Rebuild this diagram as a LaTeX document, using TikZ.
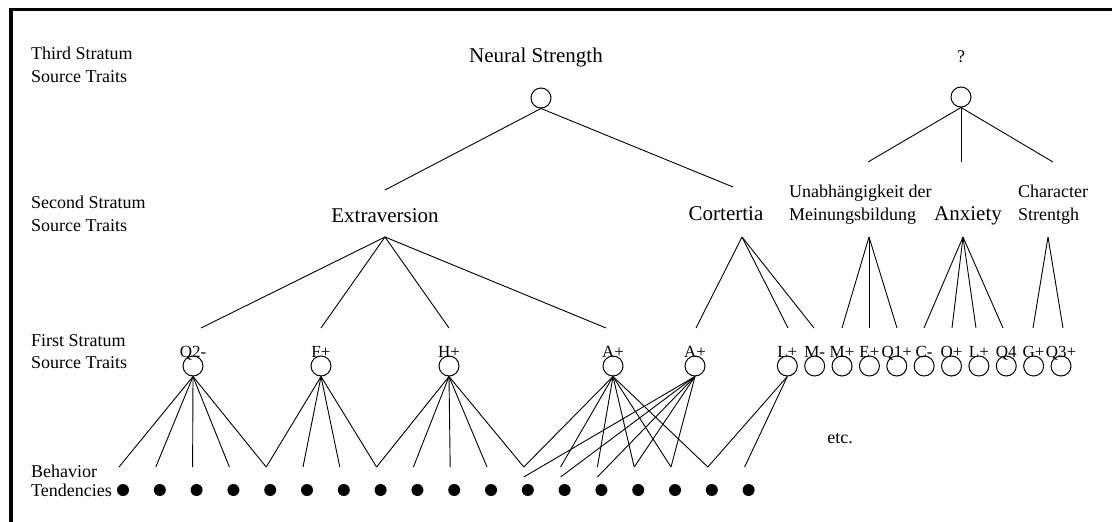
\documentclass[tikz,border=0pt]{standalone}
\usepackage{fontspec}
\setmainfont{Liberation Serif}
\begin{document}
\begin{tikzpicture}[x=1pt,y=-1pt,
  trait/.style={draw, circle, minimum size=20pt, inner sep=0pt, line width=1pt},
  beh/.style={fill, circle, minimum size=12pt, inner sep=0pt},
  link/.style={line width=0.9pt},
  sidelab/.style={anchor=base west, inner sep=0pt, font=\fontsize{18}{22}\selectfont},
  biglab/.style={anchor=base, inner sep=0pt, font=\fontsize{21}{25}\selectfont},
  midlab/.style={anchor=base west, inner sep=0pt, font=\fontsize{18}{22}\selectfont},
  traitlab/.style={anchor=base, inner sep=0pt, font=\fontsize{17}{20}\selectfont},
]
\useasboundingbox (0,0) rectangle (1112,522);

% frame on the left and top
\draw[line width=3.4pt] (10.8,522) -- (10.8,9.7) -- (1112,9.7);

% stratum captions
\node[sidelab] (t3a) at (31,59) {Third Stratum};
\node[sidelab] (t3b) at (31,82) {Source Traits};
\node[sidelab] (t2a) at (31,208) {Second Stratum};
\node[sidelab] (t2b) at (31,231) {Source Traits};
\node[sidelab] (t1a) at (31,346) {First Stratum};
\node[sidelab] (t1b) at (31,368) {Source Traits};
\node[sidelab] (tba) at (31,477) {Behavior};
\node[sidelab] (tbb) at (31,496) {Tendencies};

% third stratum
\node[biglab] (nslab) at (536,62) {Neural Strength};
\node[trait] (ns) at (541,98) {};
\node[anchor=base, inner sep=0pt, font=\fontsize{18}{22}\selectfont] (qlab) at (961,62) {?};
\node[trait] (qm) at (961,97) {};

\coordinate (nsL) at (385,190);
\coordinate (nsR) at (733,187);
\draw[link] (ns.south) -- (nsL);
\draw[link] (ns.south) -- (nsR);
\coordinate (qL) at (868,162);
\coordinate (qC) at (961,162);
\coordinate (qR) at (1053,162);
\draw[link] (qm.south) -- (qL);
\draw[link] (qm.south) -- (qC);
\draw[link] (qm.south) -- (qR);

% second stratum
\node[biglab] (ext) at (385,222) {Extraversion};
\node[biglab] (cort) at (726,220) {Cortertia};
\node[midlab] (una) at (789,197) {Unabhängigkeit der};
\node[midlab] (unb) at (789,220) {Meinungsbildung};
\node[biglab] (anx) at (968,220) {Anxiety};
\node[midlab] (cha) at (1018,197) {Character};
\node[midlab] (chb) at (1018,220) {Strentgh};

\coordinate (extA) at (385,237);
\coordinate (cortA) at (742,237);
\coordinate (unaA) at (869,237);
\coordinate (anxA) at (963,237);
\coordinate (chaA) at (1048,237);

% first stratum, left group
\node[trait] (q2) at (193,366) {};
\node[trait] (fp) at (321,366) {};
\node[trait] (hp) at (449,366) {};
\node[trait] (ap) at (613,366) {};
\node[trait] (apb) at (695,366) {};
\node[traitlab] (q2lab) at (193,357) {Q2-};
\node[traitlab] (fplab) at (321,357) {F+};
\node[traitlab] (hplab) at (449,357) {H+};
\node[traitlab] (aplab) at (613,357) {A+};
\node[traitlab] (apblab) at (695,357) {A+};

% first stratum, right row
\foreach \t [count=\i] in {L+, M-, M+, E+, Q1+, C-, O+, L+, Q4, G+, Q3+} {
  \pgfmathsetmacro\xx{787.3+27.37*(\i-1)}
  \node[trait] (r\i) at (\xx,366) {};
  \node[traitlab] (r\i lab) at (\xx,357) {\t};
}

% loading ends above the first stratum
\coordinate (e1) at (201,328);
\coordinate (e2) at (321,328);
\coordinate (e3) at (449,328);
\coordinate (e4) at (606,328);
\foreach \e in {e1,e2,e3,e4} \draw[link] (extA) -- (\e);
\coordinate (c1) at (696,328);
\coordinate (c2) at (788,328);
\coordinate (c3) at (814,328);
\foreach \e in {c1,c2,c3} \draw[link] (cortA) -- (\e);
\coordinate (m1) at (842,328);
\coordinate (m2) at (869,328);
\coordinate (m3) at (897,328);
\foreach \e in {m1,m2,m3} \draw[link] (unaA) -- (\e);
\coordinate (a1) at (924,328);
\coordinate (a2) at (952,328);
\coordinate (a3) at (976,328);
\coordinate (a4) at (1003,328);
\foreach \e in {a1,a2,a3,a4} \draw[link] (anxA) -- (\e);
\coordinate (h1) at (1033,328);
\coordinate (h2) at (1063,328);
\foreach \e in {h1,h2} \draw[link] (chaA) -- (\e);

% behaviour tendencies
\foreach \k in {0,...,17} {
  \pgfmathsetmacro\xx{123+36.8*\k}
  \node[beh] (d\k) at (\xx,490) {};
  \coordinate (u\k) at (\xx-4,467);
  \coordinate (l\k) at (\xx-4,477);
}

\foreach \k in {0,...,4} \draw[link] (q2.south) -- (u\k);
\foreach \k in {4,...,7} \draw[link] (fp.south) -- (u\k);
\foreach \k in {7,...,11} \draw[link] (hp.south) -- (u\k);
\foreach \k in {11,...,16} \draw[link] (ap.south) -- (u\k);
\foreach \k in {11,12,13} \draw[link] (apb.south) -- (l\k);
\foreach \k in {14,15} \draw[link] (apb.south) -- (u\k);
\foreach \k in {16,17} \draw[link] (r1.south) -- (u\k);

\node[anchor=base, inner sep=0pt, font=\fontsize{18}{22}\selectfont] (etc) at (840,443) {etc.};
\end{tikzpicture}
\end{document}
